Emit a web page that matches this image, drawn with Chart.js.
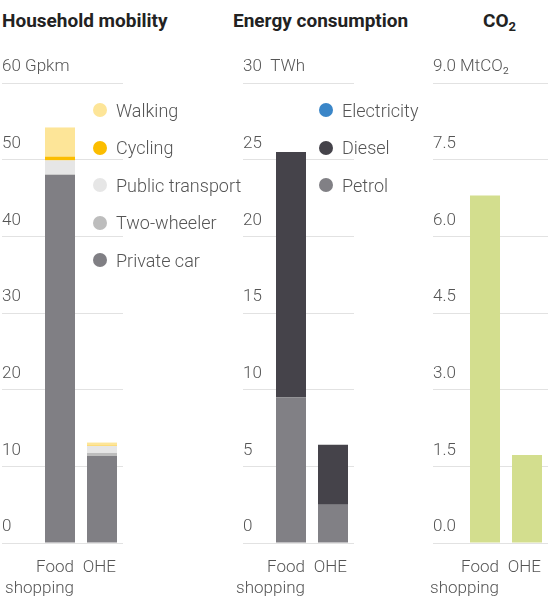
<!DOCTYPE html>
<html>
<head>
<meta charset="utf-8">
<script src="https://cdn.jsdelivr.net/npm/chart.js@4.4.1/dist/chart.umd.min.js"></script>
<style>
  body { margin: 0; background: #fff; font-family: Roboto, 'Noto Sans', sans-serif; }
  #wrap { position: relative; width: 550px; height: 605px; overflow: hidden; }
  canvas { position: absolute; top: 0; }
  .title { position: absolute; top: 11px; font-size: 19px; font-weight: 700; line-height: 19px; color: #222; white-space: nowrap; }
  .title sub { font-size: 13px; vertical-align: -4px; line-height: 0; }
  .legend { position: absolute; top: 100px; font-size: 18px; font-weight: 300; color: #555; }
  .legend .item { position: absolute; left: 0; height: 20px; display: flex; align-items: center; white-space: nowrap; }
  .legend .dot { width: 14px; height: 14px; border-radius: 50%; margin-right: 9px; flex: none; }
</style>
</head>
<body>
<div id="wrap">
  <div class="title" style="left:2px">Household mobility</div>
  <div class="title" style="left:233px">Energy consumption</div>
  <div class="title" style="left:483px">CO<sub>2</sub></div>

  <canvas id="mobility" width="125" height="605" style="left:0px"></canvas>
  <canvas id="energy" width="125" height="605" style="left:231px"></canvas>
  <canvas id="co2" width="129" height="605" style="left:421px"></canvas>

  <div class="legend" id="mobility-legend" style="left:93px"></div>
  <div class="legend" id="energy-legend" style="left:319px"></div>
</div>
<script>
// Categories shared by all three panels
const categories = [['Food', 'shopping'], 'OHE'];

// Household mobility (Gpkm)
const mobilityTicks = ['0', '10', '20', '30', '40', '50', '60 Gpkm'];
const privateCar = [48.0, 11.35];
const twoWheeler = [0.1, 0.4];
const publicTransport = [1.8, 0.9];
const cycling = [0.5, 0.05];
const walking = [3.8, 0.4];

// Energy consumption (TWh)
const energyTicks = ['0', '5', '10', '15', '20', '25', '30  TWh'];
const petrol = [9.5, 2.5];
const diesel = [16.0, 3.9];
const electricity = [0, 0];

// CO2 (MtCO2)
const co2Ticks = ['0.0', '1.5', '3.0', '4.5', '6.0', '7.5', '9.0 MtCO\u2082'];
const co2 = [6.8, 1.72];

const textColor = '#555';
const gridColor = '#e2e2e2';
const tickFont = { family: 'Roboto', size: 17, weight: '300', lineHeight: 1.25 };

function panelOptions(max, step, tickLabels, axisWidth, padLeft) {
    return {
        responsive: false,
        animation: false,
        layout: { padding: { left: padLeft, right: 2, top: 83, bottom: 0 } },
        plugins: { legend: { display: false }, tooltip: { enabled: false } },
        datasets: { bar: { barPercentage: 30 / 42, categoryPercentage: 1 } },
        scales: {
            x: {
                stacked: true,
                grid: { display: false, drawTicks: false },
                border: { display: false },
                ticks: {
                    color: textColor, font: tickFont, align: 'end', labelOffset: 14,
                    padding: 14, maxRotation: 0, autoSkip: false
                },
                afterFit: s => { s.height = 62; s.paddingLeft = 0; s.paddingRight = 0; }
            },
            y: {
                stacked: true,
                min: 0,
                max: max,
                grid: { color: gridColor, drawTicks: true, tickLength: axisWidth, tickColor: gridColor },
                border: { display: false },
                ticks: {
                    stepSize: step, color: textColor, font: tickFont,
                    mirror: true, crossAlign: 'near', labelOffset: -16, padding: -axisWidth,
                    callback: (v, i) => tickLabels[i]
                },
                afterFit: s => { s.width = axisWidth; s.paddingTop = 0; s.paddingBottom = 0; }
            }
        }
    };
}

// Build an html legend from the chart's datasets (top of stack first)
function buildLegend(chart, el) {
    chart.data.datasets.slice().reverse().forEach((ds, i) => {
        const row = document.createElement('div');
        row.className = 'item';
        row.style.top = (i * 37.5) + 'px';
        row.innerHTML = '<span class="dot" style="background:' + ds.backgroundColor + '"></span>' + ds.label;
        el.appendChild(row);
    });
}

const mobilityChart = new Chart(document.getElementById('mobility'), {
    type: 'bar',
    data: {
        labels: categories,
        datasets: [
            { label: 'Private car', data: privateCar, backgroundColor: '#807f84' },
            { label: 'Two-wheeler', data: twoWheeler, backgroundColor: '#bdbdbd' },
            { label: 'Public transport', data: publicTransport, backgroundColor: '#e6e6e6' },
            { label: 'Cycling', data: cycling, backgroundColor: '#fbbd00' },
            { label: 'Walking', data: walking, backgroundColor: '#fde598' }
        ]
    },
    options: panelOptions(60, 10, mobilityTicks, 37, 2)
});

const energyChart = new Chart(document.getElementById('energy'), {
    type: 'bar',
    data: {
        labels: categories,
        datasets: [
            { label: 'Petrol', data: petrol, backgroundColor: '#818085' },
            { label: 'Diesel', data: diesel, backgroundColor: '#45434a' },
            { label: 'Electricity', data: electricity, backgroundColor: '#3a86c8' }
        ]
    },
    options: panelOptions(30, 5, energyTicks, 27, 12)
});

const co2Chart = new Chart(document.getElementById('co2'), {
    type: 'bar',
    data: {
        labels: categories,
        datasets: [
            { label: 'CO2', data: co2, backgroundColor: '#d3de8e' }
        ]
    },
    options: panelOptions(9, 1.5, co2Ticks, 31, 12)
});

buildLegend(mobilityChart, document.getElementById('mobility-legend'));
buildLegend(energyChart, document.getElementById('energy-legend'));
</script>
</body>
</html>
